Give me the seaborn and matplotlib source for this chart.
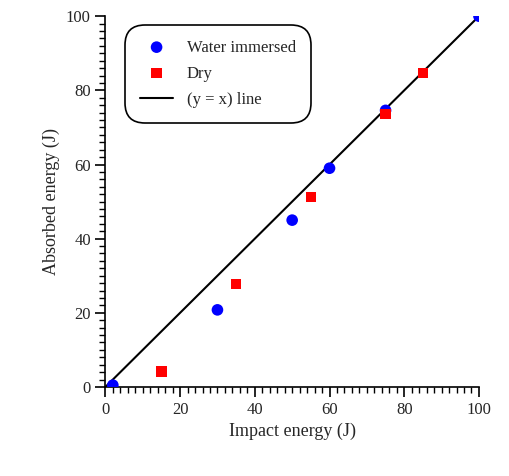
import matplotlib
matplotlib.use("Agg")
import matplotlib.pyplot as plt
import seaborn as sns
import numpy as np
from matplotlib.ticker import MultipleLocator

water_x = [2, 30, 50, 60, 75, 100]
water_y = [0.5, 20.8, 45, 59, 74.6, 100]
dry_x = [15, 35, 55, 75, 85]
dry_y = [4.2, 27.8, 51.3, 73.6, 84.7]
line_x = [0, 100]

sns.set_style("ticks")
plt.rcParams['font.family'] = ['Liberation Serif', 'DejaVu Serif']
fig, ax = plt.subplots(figsize=(5.09, 4.76), dpi=100)
fig.subplots_adjust(left=0.207, right=0.941, bottom=0.187, top=0.966)

sns.scatterplot(x=water_x, y=water_y, ax=ax, color='blue', marker='o', s=70, edgecolor='none', label='Water immersed', zorder=3)
sns.scatterplot(x=dry_x, y=dry_y, ax=ax, color='red', marker='s', s=55, edgecolor='none', label='Dry', zorder=3)
sns.lineplot(x=line_x, y=line_x, ax=ax, color='black', lw=1.5, label='(y = x) line')

ax.set_xlim(0, 100); ax.set_ylim(0, 100)
ax.xaxis.set_major_locator(MultipleLocator(20)); ax.yaxis.set_major_locator(MultipleLocator(20))
ax.xaxis.set_minor_locator(MultipleLocator(2)); ax.yaxis.set_minor_locator(MultipleLocator(2))
ax.tick_params(which='major', length=7, width=1.2, labelsize=12, color='black')
ax.tick_params(which='minor', length=4, width=1, color='black')
for s in ['top', 'right']:
    ax.spines[s].set_visible(False)
for s in ['left', 'bottom']:
    ax.spines[s].set_linewidth(1.2); ax.spines[s].set_color('black')
ax.set_xlabel('Impact energy (J)', fontsize=13)
ax.set_ylabel('Absorbed energy (J)', fontsize=13)
leg = ax.legend(loc='upper left', bbox_to_anchor=(0.03, 1.0), fontsize=12, frameon=True, fancybox=True,
                edgecolor='black', borderpad=0.9, labelspacing=0.6, handlelength=2)
leg.get_frame().set_linewidth(1.2)
leg.get_frame().set_boxstyle('round,pad=0,rounding_size=1.2')
leg.get_frame().set_alpha(1)
fig.savefig('out.png', dpi=100)
